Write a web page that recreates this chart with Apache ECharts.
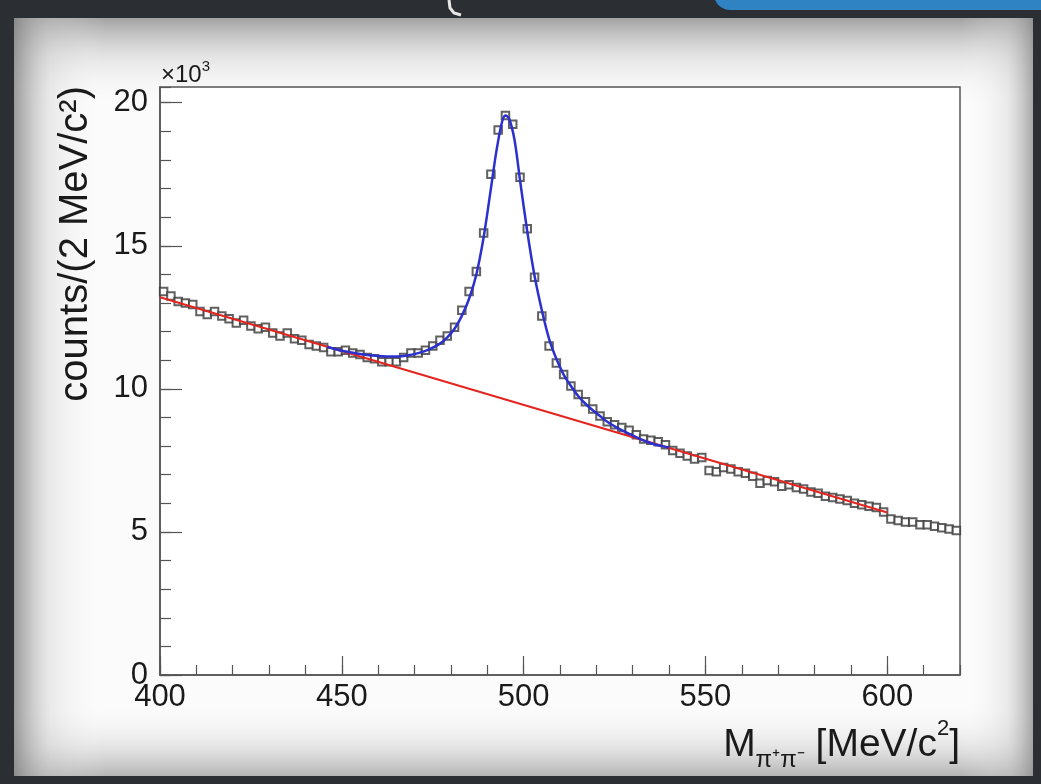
<!DOCTYPE html>
<html>
<head>
<meta charset="utf-8">
<script src="https://cdn.jsdelivr.net/npm/echarts@6/dist/echarts.min.js"></script>
<style>html,body{margin:0;padding:0;background:#2b2f33;}#c{width:1041px;height:784px;}</style>
</head>
<body>
<div id="c"></div>
<script>
// Histogram: bin centres start at 401 MeV, 2 MeV bins (counts in units of 10^3)
const binStart = 401;
const binWidth = 2;
const counts = [
  13.40, 13.25, 13.05, 13.00, 12.95, 12.70, 12.60, 12.70, 12.55, 12.45,
  12.30, 12.40, 12.20, 12.10, 12.15, 11.95, 11.85, 11.95, 11.75, 11.70,
  11.55, 11.50, 11.45, 11.30, 11.30, 11.35, 11.25, 11.20, 11.10, 11.05,
  10.95, 10.95, 10.95, 11.10, 11.25, 11.25, 11.35, 11.50, 11.70, 11.85,
  12.15, 12.75, 13.40, 14.10, 15.45, 17.50, 19.05, 19.55, 19.25, 17.40,
  15.60, 13.90, 12.55, 11.50, 10.90, 10.50, 10.10, 9.80, 9.55, 9.30,
  9.05, 8.85, 8.75, 8.65, 8.55, 8.40, 8.25, 8.20, 8.15, 8.05,
  7.85, 7.75, 7.65, 7.55, 7.60, 7.15, 7.10, 7.25, 7.20, 7.10,
  7.05, 6.95, 6.70, 6.80, 6.75, 6.60, 6.65, 6.55, 6.50, 6.40,
  6.35, 6.25, 6.20, 6.15, 6.10, 6.00, 5.95, 5.90, 5.85, 5.70,
  5.45, 5.40, 5.35, 5.35, 5.25, 5.25, 5.20, 5.15, 5.10, 5.05
];
// Background fit (red line)
const bkgMass = [400, 600];
const bkgVal  = [13.20, 5.68];
const fitMass = [446, 450, 455, 460, 465, 468, 471, 474, 477, 479, 481, 483, 485, 487, 489, 491, 492.5, 494, 495, 496, 497.5, 499, 501, 503, 505, 507, 509, 511, 513, 515, 517, 519, 521, 523, 526, 529, 532, 535, 538, 540];
const fitVal  = [11.47, 11.33, 11.22, 11.15, 11.13, 11.17, 11.25, 11.38, 11.58, 11.80, 12.10, 12.55, 13.15, 14.00, 15.30, 17.00, 18.30, 19.30, 19.55, 19.45, 18.70, 17.30, 15.50, 13.95, 12.75, 11.75, 11.05, 10.50, 10.10, 9.75, 9.48, 9.25, 9.05, 8.85, 8.62, 8.43, 8.25, 8.10, 8.00, 7.95];
const xTicksMajor = 50, xTicksMinor = 10, yTicksMajor = 5, yTicksMinor = 1;
const xMin = 400, xMax = 620, yMin = 0, yMax = 20.55;

const pts = counts.map((v, i) => [binStart + i * binWidth, v]);
const bkg = bkgMass.map((m, i) => [m, bkgVal[i]]);
const fit = fitMass.map((m, i) => [m, fitVal[i]]);

const FONT = 'Liberation Sans, Arial, Helvetica, sans-serif';
const TXT = '#1a1a1a';
const chart = echarts.init(document.getElementById('c'), null, {renderer: 'canvas'});
const grid = {left: 160, right: 81, top: 87, bottom: 109, show: true, borderColor: '#555', borderWidth: 1.5, backgroundColor: 'transparent'};

chart.setOption({
  animation: false,
  backgroundColor: '#2b2f33',
  grid: grid,
  graphic: [
    // paper
    {type: 'rect', z: -20, shape: {x: 14, y: 18, width: 1019, height: 758}, style: {fill: '#fbfbfb'}},
    {type: 'rect', z: -19, shape: {x: 14, y: 18, width: 1019, height: 758},
     style: {fill: new echarts.graphic.LinearGradient(0, 0, 0, 1, [
       {offset: 0, color: 'rgba(140,140,140,0.8)'},
       {offset: 0.05, color: 'rgba(190,190,190,0.4)'},
       {offset: 0.12, color: 'rgba(255,255,255,0)'},
       {offset: 0.9, color: 'rgba(255,255,255,0)'},
       {offset: 0.96, color: 'rgba(190,190,190,0.35)'},
       {offset: 1, color: 'rgba(150,150,150,0.7)'}])}},
    {type: 'rect', z: -18, shape: {x: 14, y: 18, width: 1019, height: 758},
     style: {fill: new echarts.graphic.LinearGradient(0, 0, 1, 0, [
       {offset: 0, color: 'rgba(130,130,130,0.8)'},
       {offset: 0.035, color: 'rgba(200,200,200,0.35)'},
       {offset: 0.09, color: 'rgba(255,255,255,0)'},
       {offset: 0.93, color: 'rgba(255,255,255,0)'},
       {offset: 0.975, color: 'rgba(200,200,200,0.35)'},
       {offset: 1, color: 'rgba(140,140,140,0.75)'}])}},
    // plot background
    {type: 'rect', z: -17, shape: {x: 160, y: 87, width: 800, height: 588}, style: {fill: '#ffffff'}},
    // top-right blue tab
    {type: 'rect', z: -16, shape: {x: 714, y: -30, width: 360, height: 40, r: 16}, style: {fill: '#2f83c2'}},
    // small white mark at the top
    {type: 'polyline', z: -16, shape: {points: [[449, 0], [450, 8], [454, 13], [461, 15]]}, style: {stroke: '#e8e8e8', lineWidth: 3, fill: null}},
    // x10^3 multiplier
    {type: 'text', z: 10, x: 161, y: 87, style: {
      text: '{a|×10}{s|3}', fontFamily: FONT, fill: TXT, verticalAlign: 'bottom',
      rich: {a: {fontSize: 24, fontFamily: FONT, fill: TXT, verticalAlign: 'bottom', lineHeight: 28},
             s: {fontSize: 15, fontFamily: FONT, fill: TXT, verticalAlign: 'top', lineHeight: 28}}}},
    // y title
    {type: 'text', z: 10, x: 76, y: 86, rotation: Math.PI / 2, style: {
      text: 'counts/(2 MeV/c²)', fontFamily: FONT, fontSize: 40, fill: TXT, align: 'right', verticalAlign: 'middle'}},
    // x title
    {type: 'text', z: 10, x: 960, y: 772, style: {
      text: '{a|M}{sub|π⁺π⁻}{a| [MeV/c}{sup|2}{a|]}', align: 'right', verticalAlign: 'bottom', fontFamily: FONT, fill: TXT,
      rich: {a: {fontSize: 39, fontFamily: FONT, fill: TXT, verticalAlign: 'middle', lineHeight: 54},
             sub: {fontSize: 24, fontFamily: FONT, fill: TXT, verticalAlign: 'bottom', lineHeight: 22},
             sup: {fontSize: 22, fontFamily: FONT, fill: TXT, verticalAlign: 'top', lineHeight: 30}}}}
  ],
  xAxis: [
    {type: 'value', min: xMin, max: xMax, interval: xTicksMajor, position: 'bottom',
     axisLine: {show: true, onZero: false, lineStyle: {color: '#555', width: 1.5}},
     axisTick: {show: true, inside: true, length: 19, lineStyle: {color: '#555', width: 1.2}},
     axisLabel: {show: true, fontSize: 31, color: TXT, fontFamily: FONT, margin: 7, showMaxLabel: false},
     splitLine: {show: false}},
    {type: 'value', min: xMin, max: xMax, interval: xTicksMinor, position: 'bottom',
     axisLine: {show: false}, axisLabel: {show: false}, splitLine: {show: false},
     axisTick: {show: true, inside: true, length: 10, lineStyle: {color: '#555', width: 1.2}}}
  ],
  yAxis: [
    {type: 'value', min: yMin, max: yMax, interval: yTicksMajor, position: 'left',
     axisLine: {show: true, onZero: false, lineStyle: {color: '#555', width: 1.5}},
     axisTick: {show: true, inside: true, length: 22, lineStyle: {color: '#555', width: 1.2}},
     axisLabel: {show: true, fontSize: 31, color: TXT, fontFamily: FONT, margin: 12, showMaxLabel: false},
     splitLine: {show: false}},
    {type: 'value', min: yMin, max: yMax, interval: yTicksMinor, position: 'left',
     axisLine: {show: false}, axisLabel: {show: false}, splitLine: {show: false},
     axisTick: {show: true, inside: true, length: 11, lineStyle: {color: '#555', width: 1.2}}}
  ],
  series: [
    {type: 'scatter', data: pts, symbol: 'emptyRect', symbolSize: 7.5, z: 2,
     itemStyle: {color: '#3a3a3a', borderWidth: 1.2}},
    {type: 'line', data: bkg, showSymbol: false, symbol: 'none', z: 3,
     lineStyle: {color: '#e3241f', width: 2}},
    {type: 'line', data: fit, smooth: 0.3, showSymbol: false, symbol: 'none', z: 4,
     lineStyle: {color: '#2b30cf', width: 2.5}}
  ]
});
</script>
</body>
</html>
